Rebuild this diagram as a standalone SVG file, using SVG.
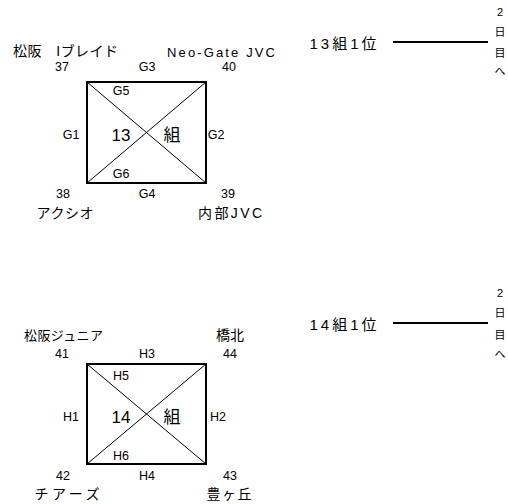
<svg xmlns="http://www.w3.org/2000/svg" width="508" height="504" viewBox="0 0 508 504">
<style>
text{font-family:"Liberation Sans","Noto Sans CJK JP",sans-serif;fill:#000;text-anchor:middle;dominant-baseline:central}
.n{font-size:14px}
.m{font-size:13px}
.s{font-size:12.5px}
.b{font-size:17px}
.w{font-size:15px}
.v{font-size:11px}
.box{fill:none;stroke:#000;stroke-width:2}
.d{stroke:#000;stroke-width:1}
.ln{stroke:#000;stroke-width:2}
</style>
<rect width="508" height="504" fill="#fff"/>
<g id="group13">
<rect class="box" x="87" y="82" width="119" height="101"/>
<line class="d" x1="87" y1="82" x2="206" y2="183"/>
<line class="d" x1="206" y1="82" x2="87" y2="183"/>
<text class="n" x="65.5" y="51" textLength="105" lengthAdjust="spacing">松阪　Iブレイド</text>
<text class="m" x="221" y="52.5" textLength="108" lengthAdjust="spacing">Neo-Gate  JVC</text>
<text class="s" x="62" y="66.5">37</text>
<text class="s" x="147" y="66.5">G3</text>
<text class="s" x="229" y="66.5">40</text>
<text class="s" x="121" y="91">G5</text>
<text class="s" x="71" y="135">G1</text>
<text class="b" x="121" y="135">13</text>
<text class="b" x="172" y="135">組</text>
<text class="s" x="216" y="135">G2</text>
<text class="s" x="121" y="174">G6</text>
<text class="s" x="63" y="194">38</text>
<text class="s" x="147" y="194">G4</text>
<text class="s" x="228" y="194">39</text>
<text class="n" x="65" y="213" textLength="57" lengthAdjust="spacing">アクシオ</text>
<text class="n" x="230" y="213" textLength="64" lengthAdjust="spacing">内部JVC</text>
</g>
<g id="group14">
<rect class="box" x="87" y="364" width="119" height="100"/>
<line class="d" x1="87" y1="364" x2="206" y2="464"/>
<line class="d" x1="206" y1="364" x2="87" y2="464"/>
<text class="m" x="63.5" y="335" textLength="79" lengthAdjust="spacing">松阪ジュニア</text>
<text class="n" x="230" y="335">橋北</text>
<text class="s" x="62" y="354">41</text>
<text class="s" x="147" y="354">H3</text>
<text class="s" x="230" y="354">44</text>
<text class="s" x="121" y="376">H5</text>
<text class="s" x="71" y="417">H1</text>
<text class="b" x="121" y="417">14</text>
<text class="b" x="172" y="417">組</text>
<text class="s" x="218" y="417">H2</text>
<text class="s" x="121" y="456">H6</text>
<text class="s" x="63" y="476">42</text>
<text class="s" x="147" y="476">H4</text>
<text class="s" x="230" y="476">43</text>
<text class="n" x="67" y="494" textLength="65" lengthAdjust="spacing">チアーズ</text>
<text class="n" x="229" y="494" textLength="45" lengthAdjust="spacing">豊ヶ丘</text>
</g>
<g id="winner13">
<text class="w" x="343" y="43" textLength="67" lengthAdjust="spacing">13組1位</text>
<text class="v" x="500" y="12">2</text>
<text class="v" x="500" y="32">日</text>
<text class="v" x="500" y="53">目</text>
<text class="v" x="500" y="71">へ</text>
</g>
<g id="winner14">
<text class="w" x="343" y="324" textLength="67" lengthAdjust="spacing">14組1位</text>
<text class="v" x="500" y="293">2</text>
<text class="v" x="500" y="313">日</text>
<text class="v" x="500" y="335">目</text>
<text class="v" x="500" y="354">へ</text>
</g>
<g id="connectors">
<line class="ln" x1="393" y1="42" x2="488" y2="42"/>
<line class="ln" x1="393" y1="323" x2="488" y2="323"/>
</g>
</svg>
